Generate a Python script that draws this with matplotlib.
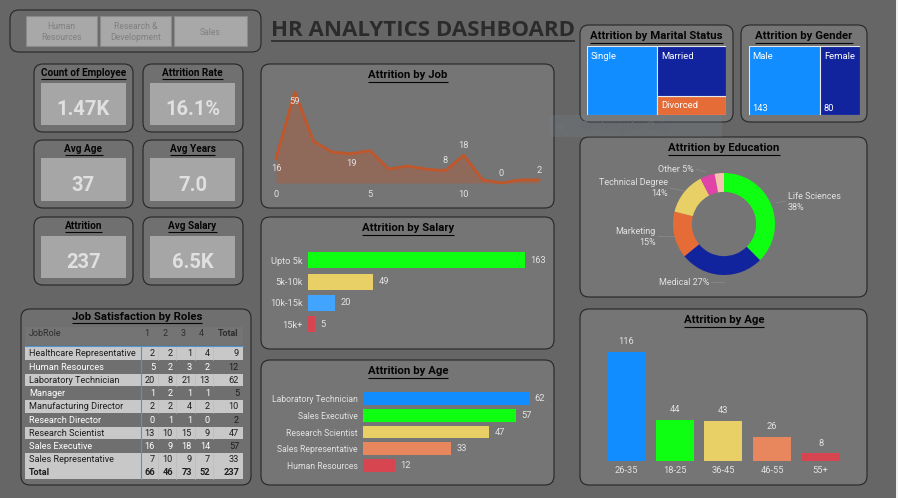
"""HR analytics dashboard"""

import matplotlib
matplotlib.use('Agg')
import matplotlib.pyplot as plt
from matplotlib.patches import FancyBboxPatch, Rectangle

plt.rcParams['font.family'] = ['Roboto', 'DejaVu Sans']

W = 898
H = 498

# data
departments = ['Human\nResources', 'Research &\nDevelopment', 'Sales']
card_titles = ['Count of Employee', 'Attrition Rate', 'Avg Age', 'Avg Years', 'Attrition', 'Avg Salary']
card_values = ['1.47K', '16.1%', '37', '7.0', '237', '6.5K']

job_x = [0, 1, 2, 3, 4, 5, 6, 7, 8, 9, 10, 11, 12, 13, 14]
job_y = [16, 59, 27, 20, 19, 21, 9, 11, 9, 8, 18, 2, 0, 2, 2]

salary_labels = ['Upto 5k', '5k-10k', '10k-15k', '15k+']
salary_values = [163, 49, 20, 5]

role_labels = ['Laboratory Technician', 'Sales Executive', 'Research Scientist', 'Sales Representative', 'Human Resources']
role_values = [62, 57, 47, 33, 12]

age_labels = ['26-35', '18-25', '36-45', '46-55', '55+']
age_values = [116, 44, 43, 26, 8]

marital_labels = ['Single', 'Married', 'Divorced']
marital_values = [120, 84, 33]
gender_labels = ['Male', 'Female']
gender_values = [143, 80]

edu_values = [89, 63, 35, 32, 11, 7]

table_header = ['JobRole', '1', '2', '3', '4', 'Total']
table_roles = ['Healthcare Representative', 'Human Resources', 'Laboratory Technician', 'Manager',
               'Manufacturing Director', 'Research Director', 'Research Scientist', 'Sales Executive',
               'Sales Representative', 'Total']
table_s1 = [2, 5, 20, 1, 2, 0, 13, 16, 7, 66]
table_s2 = [2, 2, 8, 2, 2, 1, 10, 9, 10, 46]
table_s3 = [1, 3, 21, 1, 4, 1, 15, 18, 9, 73]
table_s4 = [4, 2, 13, 1, 2, 0, 9, 14, 7, 52]
table_total = [9, 12, 62, 5, 10, 2, 47, 57, 33, 237]

# colours
BLUE = '#118DFF'
NAVY = '#12239E'
GREEN = '#0FFF12'
YELLOW = '#E8CF66'
ORANGE = '#E66C37'
SALMON = '#E8875E'
RED = '#D64550'
SKY = '#41A4FF'
PANEL = '#757575'
LABEL = '#e2e2e2'
TICK = 6.2
VALUE = 6.7

fig = plt.figure(figsize=(W / 100.0, H / 100.0), dpi=100, facecolor='#666666')

# background axes in pixel coordinates, panels go here
bg = fig.add_axes([0, 0, 1, 1], zorder=0)
bg.set_xlim(0, W)
bg.set_ylim(H, 0)
bg.axis('off')

# same thing on top of the charts, for texts over them
fg = fig.add_axes([0, 0, 1, 1], zorder=5)
fg.set_xlim(0, W)
fg.set_ylim(H, 0)
fg.axis('off')
renderer = fig.canvas.get_renderer()


def panel(x0, y0, x1, y1, fc=PANEL, r=9):
    bg.add_patch(FancyBboxPatch((x0 + r, y0 + r), x1 - x0 - 2 * r, y1 - y0 - 2 * r,
                                boxstyle='round,pad=%d,rounding_size=%d' % (r, r),
                                fc=fc, ec='#262626', lw=0.8))


def title(s, x, y, size=8.2, color='#050505', family='Roboto', lw=0.8, drop=7):
    t = fg.text(x, y, s, ha='center', va='center', fontsize=size, fontweight='bold', color=color, family=family)
    bb = t.get_window_extent(renderer)
    fg.plot([bb.x0, bb.x1], [y + drop, y + drop], color=color, lw=lw, solid_capstyle='butt')


def sub_axes(x0, y0, x1, y1):
    ax = fig.add_axes([x0 / W, 1 - y1 / H, (x1 - x0) / W, (y1 - y0) / H], zorder=2)
    ax.patch.set_visible(False)
    for s in ax.spines.values():
        s.set_visible(False)
    ax.tick_params(length=0, labelsize=TICK, labelcolor=LABEL)
    return ax


# right white strip
bg.add_patch(Rectangle((896, 0), 2, H, fc='#f0f0f0', ec='none'))

# slicer
panel(10, 10, 261, 52, fc='#6a6a6a')
for i, (name, bx0, bx1) in enumerate(zip(departments, [26, 100, 174], [97, 171, 247])):
    bg.add_patch(Rectangle((bx0, 16), bx1 - bx0, 30, fc='#a8a8a8', ec='#8a8a8a', lw=0.8))
    fg.text((bx0 + bx1) / 2.0, 32, name, ha='center', va='center', fontsize=6.2, color='#808080', linespacing=1.35)

# cards
card_x = [(34, 133, 41, 126), (143, 243, 150, 235)]
card_y = [(64, 132, 83, 125), (140, 208, 158, 201), (217, 285, 236, 278)]
for i in range(6):
    cx0, cx1, ix0, ix1 = card_x[i % 2]
    cy0, cy1, iy0, iy1 = card_y[i // 2]
    panel(cx0, cy0, cx1, cy1, fc='#707070')
    bg.add_patch(Rectangle((ix0, iy0), ix1 - ix0, iy1 - iy0, fc='#a6a6a6', ec='none'))
    title(card_titles[i], (ix0 + ix1) / 2.0, cy0 + 9, size=7.2, drop=6)
    fg.text((ix0 + ix1) / 2.0, iy1 - 16, card_values[i], ha='center', va='center', fontsize=14.5,
            fontweight='bold', color='#e0e0e0')

# big title
title('HR ANALYTICS DASHBOARD', 423, 30, size=16, color='#2b2b2b', family='Open Sans', lw=1.2, drop=11)

# line chart
panel(261, 64, 554, 208)
title('Attrition by Job', 408, 75)
ax = sub_axes(276, 92, 539, 183)
ax.plot(job_x, job_y, color='#C0572B', lw=2.0, clip_on=False)
ax.fill_between(job_x, job_y, 0, color='#C0572B', alpha=0.35, lw=0)
ax.set_xlim(0, 14)
ax.set_ylim(0, 59)
ax.set_yticks([])
ax.set_xticks([0, 5, 10])
ax.tick_params(axis='x', pad=5, labelsize=VALUE)
for i, dy in [(0, -7), (1, -7), (4, -7), (9, 7), (10, 7), (12, 7), (14, 7)]:
    ax.annotate(str(job_y[i]), (job_x[i], job_y[i]), xytext=(0, dy), textcoords='offset points',
                ha='center', va='center', fontsize=VALUE, color=LABEL, annotation_clip=False)

# salary bars
panel(261, 217, 554, 349)
title('Attrition by Salary', 408, 228)
ax = sub_axes(308, 249.5, 525, 335)
bars = ax.barh(salary_labels, salary_values, height=0.75, color=[GREEN, YELLOW, SKY, RED])
ax.bar_label(bars, padding=4, fontsize=VALUE, color=LABEL)
ax.set_xlim(0, 163)
ax.set_ylim(3.5, -0.5)
ax.set_xticks([])
ax.tick_params(axis='y', pad=4, labelsize=VALUE)

# role bars
panel(261, 360, 554, 485)
title('Attrition by Age', 408, 371)
ax = sub_axes(363, 390.5, 529, 473.5)
bars = ax.barh(role_labels, role_values, height=0.76, color=[BLUE, GREEN, YELLOW, SALMON, RED])
ax.bar_label(bars, padding=4, fontsize=VALUE, color=LABEL)
ax.set_xlim(0, 62)
ax.set_ylim(4.5, -0.5)
ax.set_xticks([])
ax.tick_params(axis='y', pad=4)

# marital treemap
panel(580, 25, 733, 122)
title('Attrition by Marital Status', 656.5, 36)
ax = sub_axes(587, 46, 726, 115)
total = float(sum(marital_values))
rest = marital_values[1] + marital_values[2]
ax.bar(0, total, width=marital_values[0], align='edge', color=BLUE, ec='#e8e8e8', lw=0.8)
ax.bar(marital_values[0], marital_values[2] / float(rest) * total, width=rest, align='edge', color=ORANGE, ec='#e8e8e8', lw=0.8)
ax.bar(marital_values[0], marital_values[1] / float(rest) * total, bottom=marital_values[2] / float(rest) * total,
       width=rest, align='edge', color=NAVY, ec='#e8e8e8', lw=0.8)
ax.set_xlim(0, total)
ax.set_ylim(0, total)
ax.set_xticks([])
ax.set_yticks([])
fg.text(591, 56, marital_labels[0], va='center', fontsize=6.8, color='white')
fg.text(661, 56, marital_labels[1], va='center', fontsize=6.8, color='white')
fg.text(661, 105.5, marital_labels[2], va='center', fontsize=6.8, color='white')

# gender treemap
panel(741, 25, 867, 122)
title('Attrition by Gender', 804, 36)
ax = sub_axes(749, 46, 860, 115)
ax.bar(0, 1, width=gender_values[0], align='edge', color=BLUE, ec='#e8e8e8', lw=0.8)
ax.bar(gender_values[0], 1, width=gender_values[1], align='edge', color=NAVY, ec='#e8e8e8', lw=0.8)
ax.set_xlim(0, sum(gender_values))
ax.set_ylim(0, 1)
ax.set_xticks([])
ax.set_yticks([])
fg.text(752, 56, gender_labels[0], va='center', fontsize=6.8, color='white')
fg.text(824, 56, gender_labels[1], va='center', fontsize=6.8, color='white')
fg.text(752, 108, str(gender_values[0]), va='center', fontsize=VALUE, color='white')
fg.text(824, 108, str(gender_values[1]), va='center', fontsize=VALUE, color='white')

# donut
panel(580, 137, 867, 297)
title('Attrition by Education', 724, 148)
ax = sub_axes(673, 173, 775, 275)
ax.pie(edu_values, startangle=90, counterclock=False, radius=1.0,
       colors=[GREEN, NAVY, ORANGE, YELLOW, '#E044A7', '#F5C4AF'],
       wedgeprops=dict(width=0.37, lw=0))
ax.set_xlim(-1, 1)
ax.set_ylim(-1, 1)
for txt, x, y, ha in [('Life Sciences\n38%', 788, 202, 'left'), ('Marketing\n15%', 656, 237, 'right'),
                      ('Technical Degree\n14%', 668, 188, 'right'), ('Other 5%', 694, 169.5, 'right'),
                      ('Medical 27%', 709, 282, 'right')]:
    fg.text(x, y, txt, ha=ha, va='center', fontsize=6.5, color=LABEL, linespacing=1.25, multialignment=ha)
for xs, ys in [([776, 786], [203, 201]), ([658, 675], [236, 236]), ([670, 684], [188, 191]),
               ([696, 706], [169, 172]), ([711, 724], [282, 282])]:
    bg.plot(xs, ys, color='#8c8c8c', lw=0.5)

# age columns
panel(580, 309, 867, 485)
title('Attrition by Age', 724, 320)
ax = sub_axes(601.7, 352, 845, 461)
bars = ax.bar(age_labels, age_values, width=0.78, color=[BLUE, GREEN, YELLOW, SALMON, RED])
ax.bar_label(bars, padding=4, fontsize=VALUE, color=LABEL)
ax.set_xlim(-0.5, 4.5)
ax.set_ylim(0, 116)
ax.set_yticks([])
ax.tick_params(axis='x', pad=3.5, labelsize=VALUE)

# table
panel(21, 309, 251, 485, fc='#6f6f6f')
title('Job Satisfaction by Roles', 137, 317, drop=6)
bg.add_patch(Rectangle((25, 327), 218, 18, fc='#747474', ec='none'))
header_x = [29, 147, 165, 183, 201, 228]
for j, s in enumerate(table_header):
    fg.text(header_x[j], 333.5, s, ha='left' if j == 0 else 'center', va='center', fontsize=6.5,
            color='#2e2e2e', fontweight='bold' if j == 5 else 'normal')
row_y = [353.5, 367, 380, 393, 406.5, 420, 433, 446.5, 459.5, 472.5]
col_right = [155, 173, 192, 210, 239]
for i, role in enumerate(table_roles):
    light = i % 2 == 0 or i == 9
    if light:
        bg.add_patch(Rectangle((25, row_y[i] - 6.4), 218, 12.8, fc='#c8c8c8', ec='none'))
        for cx in [158, 176, 195, 213]:
            bg.plot([cx, cx], [row_y[i] - 6.4, row_y[i] + 6.4], color='#bcbcbc', lw=0.5)
    color = '#1e1e1e' if light else 'white'
    weight = 'bold' if i == 9 else 'normal'
    fg.text(29, row_y[i], role, va='center', fontsize=6.6, color=color, fontweight=weight)
    cells = [table_s1[i], table_s2[i], table_s3[i], table_s4[i], table_total[i]]
    for j, v in enumerate(cells):
        c = '#1e1e1e' if j == 4 else color
        fg.text(col_right[j], row_y[i], str(v), ha='right', va='center', fontsize=6.6, color=c, fontweight=weight)
fg.plot([25, 243], [345.5, 345.5], color='#4f94d4', lw=0.8)
fg.plot([140.5, 140.5], [345.5, 479], color='#4f94d4', lw=0.8)

# ghost of the snipping tool
fg.add_patch(Rectangle((550, 115), 172, 22, fc='#7f8d9b', ec='none', alpha=0.2))
fg.plot([560], [126], 'o', color='#6c6f74', ms=4)
fg.text(581, 126, 'Rectangular Snip', va='center', fontsize=8.6, color='#666a6e')

fig.savefig('out.png', dpi=100, facecolor=fig.get_facecolor())
